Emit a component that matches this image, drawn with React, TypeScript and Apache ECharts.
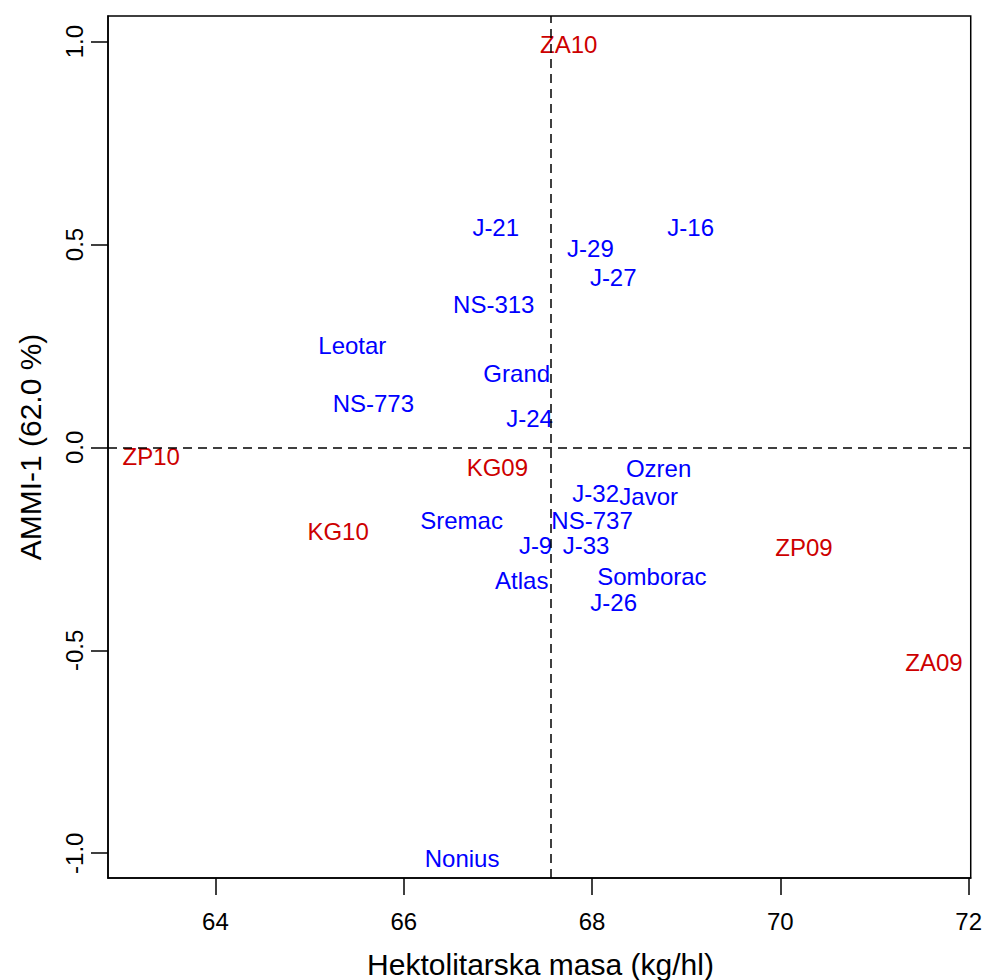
import React, { useEffect, useRef } from "react";
import * as echarts from "echarts";

const genotypes = ["J-21", "J-16", "J-29", "J-27", "NS-313", "Leotar", "Grand", "NS-773", "J-24", "Ozren", "J-32", "Javor", "Sremac", "NS-737", "J-9", "J-33", "Somborac", "Atlas", "J-26", "Nonius"];
const genotypeX = [66.977, 69.048, 67.983, 68.225, 66.956, 65.454, 67.2, 65.677, 67.337, 68.707, 68.039, 68.601, 66.614, 68.0, 67.4, 67.936, 68.636, 67.253, 68.23, 66.62];
const genotypeY = [0.543, 0.543, 0.489, 0.419, 0.353, 0.25, 0.183, 0.109, 0.072, -0.052, -0.113, -0.122, -0.179, -0.179, -0.241, -0.241, -0.319, -0.328, -0.381, -1.012];

const environments = ["ZA10", "ZP10", "KG09", "KG10", "ZP09", "ZA09"];
const envX = [67.753, 63.318, 66.994, 65.303, 70.251, 71.632];
const envY = [0.993, -0.023, -0.049, -0.208, -0.246, -0.53];

const xTicks = [64, 66, 68, 70, 72];
const yTicks = [-1, -0.5, 0, 0.5, 1];
const meanX = 67.556;

const xTitle = "Hektolitarska masa (kg/hl)";
const yTitle = "AMMI-1 (62.0 %)";

const FONT = "'Liberation Sans', Arial, sans-serif";

export default function App() {
  const ref = useRef<HTMLDivElement>(null);
  useEffect(() => {
    if (!ref.current) return;
    const chart = echarts.init(ref.current, undefined, { renderer: "svg" });
    const labelStyle = (color: string) => ({
      show: true,
      formatter: "{b}",
      position: "inside",
      color,
      opacity: 1,
      fontSize: 24,
      fontFamily: FONT,
    });
    chart.setOption({
      animation: false,
      backgroundColor: "#fff",
      grid: { left: 108, right: 12, top: 16, bottom: 102, show: true, borderColor: "#000", borderWidth: 1.5, backgroundColor: "transparent" },
      xAxis: {
        type: "value",
        min: 62.859,
        max: 72.022,
        axisLine: { show: true, onZero: false, lineStyle: { color: "#000", width: 1.5 } },
        axisTick: { show: true, customValues: xTicks, length: 17, lineStyle: { color: "#000", width: 1.5 } },
        axisLabel: { customValues: xTicks, fontSize: 24, color: "#000", fontFamily: FONT, margin: 31 },
        splitLine: { show: false },
      },
      yAxis: {
        type: "value",
        min: -1.061,
        max: 1.063,
        axisLine: { show: true, onZero: false, lineStyle: { color: "#000", width: 1.5 } },
        axisTick: { show: true, customValues: yTicks, length: 17, lineStyle: { color: "#000", width: 1.5 } },
        axisLabel: {
          customValues: yTicks,
          rotate: 90,
          fontSize: 24,
          color: "#000",
          fontFamily: FONT,
          margin: 22,
          formatter: (v: number) => v.toFixed(1),
        },
        splitLine: { show: false },
      },
      graphic: [
        { type: "text", x: 540.5, y: 964, style: { text: xTitle, fontSize: 30, fill: "#000", align: "center", verticalAlign: "middle", fontFamily: FONT } },
        { type: "text", x: 30, y: 447, rotation: Math.PI / 2, style: { text: yTitle, fontSize: 30, fill: "#000", align: "center", verticalAlign: "middle", fontFamily: FONT } },
      ],
      series: [
        {
          type: "scatter",
          name: "genotypes",
          symbolSize: 1,
          itemStyle: { color: "rgba(0,0,0,0)", opacity: 1 },
          label: labelStyle("#0000FF"),
          data: genotypes.map((n, i) => ({ name: n, value: [genotypeX[i], genotypeY[i]] })),
          markLine: {
            silent: true,
            symbol: "none",
            label: { show: false },
            lineStyle: { type: [9, 6], color: "#000", width: 1.5, opacity: 1 },
            data: [{ xAxis: meanX }, { yAxis: 0 }],
          },
          z: 3,
        },
        {
          type: "scatter",
          name: "environments",
          symbolSize: 1,
          itemStyle: { color: "rgba(0,0,0,0)", opacity: 1 },
          label: labelStyle("#CD0000"),
          data: environments.map((n, i) => ({ name: n, value: [envX[i], envY[i]] })),
          z: 3,
        },
      ],
    });
    return () => chart.dispose();
  }, []);
  return <div ref={ref} style={{ position: "fixed", left: 0, top: 0, width: 985, height: 980 }} />;
}
